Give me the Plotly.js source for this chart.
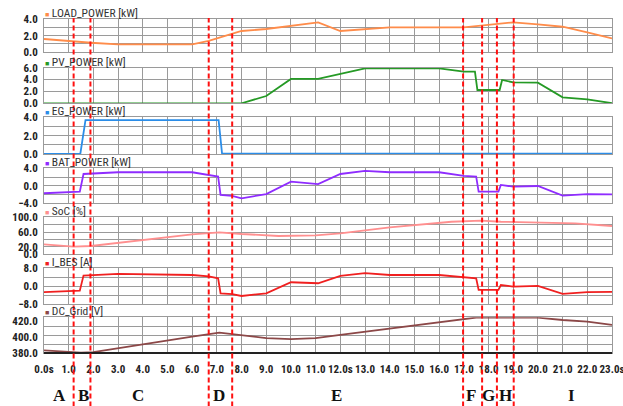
<!DOCTYPE html>
<html>
<head>
<meta charset="utf-8">
<script src="https://cdn.plot.ly/plotly-3.0.1.min.js"></script>
<style>
html,body{margin:0;padding:0;background:#fff;}
#chart{width:623px;height:406px;}
</style>
</head>
<body>
<div id="chart"></div>
<script>
// ---------- data ----------
const loadT = [0, 1.2, 1.9, 3, 6.0, 6.67, 7.62, 8, 9, 10, 11.1, 12, 13, 14, 17, 18, 19, 20, 21, 22, 23];
const loadV = [1.6, 1.27, 1.15, 0.96, 0.96, 1.36, 2.28, 2.56, 2.8, 3.16, 3.6, 2.56, 2.76, 3.0, 3.0, 3.28, 3.6, 3.36, 3.07, 2.4, 1.68];

const pvT = [0, 8, 9, 10, 11.1, 12, 13, 16, 17, 17.45, 17.55, 18.45, 18.55, 19, 20, 21, 22, 23];
const pvV = [0, 0, 1.23, 4.1, 4.1, 4.94, 5.9, 5.9, 5.33, 5.33, 2.24, 2.24, 3.93, 3.54, 3.47, 1.0, 0.67, 0.02];

const egT = [0, 1.47, 1.68, 7.07, 7.21, 23];
const egV = [0, 0, 3.7, 3.7, 0.05, 0.05];

const batT = [0, 1.45, 1.6, 2, 3, 6, 6.67, 7.05, 7.15, 7.62, 8, 9, 10, 11.1, 12, 13, 14, 16, 17, 17.5, 17.6, 18.4, 18.5, 19, 20, 21, 22, 23];
const batV = [-1.7, -1.35, 2.7, 2.85, 3.1, 3.1, 2.5, 2.1, -2.1, -2.3, -2.85, -1.9, 0.95, 0.4, 2.7, 3.4, 3.1, 3.1, 2.25, 2.1, -1.35, -1.35, 0.2, -0.2, -0.05, -2.25, -1.9, -1.95];

const socT = [0, 1.2, 1.9, 4, 6, 7.1, 8, 9.5, 11, 12, 14, 16.5, 17.7, 18.5, 20.5, 21.5, 23];
const socV = [27, 20.5, 22.4, 38.6, 54, 59.5, 54.9, 49.5, 51.4, 56.8, 73, 88, 90.8, 88, 86.5, 83.8, 76.5];

const ibesT = [0, 1.45, 1.6, 3, 6, 6.67, 7.05, 7.15, 7.62, 8, 9, 10, 11.1, 12, 13, 14, 16, 17, 17.5, 17.6, 18.4, 18.5, 19, 20, 21, 22, 23];
const ibesV = [-2.7, -2.0, 4.7, 5.5, 5.0, 4.4, 3.5, -3.2, -3.6, -4.4, -3.2, 1.75, 1.3, 4.6, 5.8, 5.0, 5.0, 3.8, 3.5, -1.7, -1.7, 0.5, -0.2, 0.1, -3.5, -2.7, -2.6];

const dcT = [0, 1.5, 2, 3, 4, 5, 6, 7.1, 8, 9, 10, 11, 12, 13, 14, 15, 16, 17, 17.5, 18, 20, 21, 22, 23];
const dcV = [383.3, 380.5, 381.2, 386.2, 391.2, 396.6, 400.7, 405.7, 402, 398.7, 397.5, 398.7, 402.9, 407, 411.2, 415.4, 419.5, 422.9, 424.7, 424.5, 424.5, 421.6, 419.5, 415.4];

const seriesNames = ['LOAD_POWER [kW]', 'PV_POWER [kW]', 'EG_POWER [kW]', 'BAT_POWER [kW]', 'SoC [%]', 'I_BES [A]', 'DC_Grid [V]'];

const loadTicks = [0, 2, 4];
const pvTicks = [0, 2, 4, 6];
const egTicks = [0, 2, 4];
const batTicks = [-4, 0, 4];
const socTicks = [0, 20, 60, 100];
const ibesTicks = [-8, 0, 8];
const dcTicks = [380, 400, 420];

const xTickVals = [0,1,2,3,4,5,6,7,8,9,10,11,12,13,14,15,16,17,18,19,20,21,22,23];
const xTickText = ['0.0s','1.0','2.0','3.0','4.0','5.0','6.0','7.0','8.0','9.0','10.0','11.0','12.0s','13.0','14.0','15.0','16.0','17.0','18.0','19.0','20.0','21.0','22.0','23.0s'];

const boundaryTimes = [1.2, 1.88, 6.67, 7.62, 16.97, 17.74, 18.34, 19.02];
const regionLetters = ['A', 'B', 'C', 'D', 'E', 'F', 'G', 'H', 'I'];
const regionLetterTimes = [0.64, 1.61, 3.81, 7.07, 11.84, 17.29, 18.0, 18.68, 21.38];

// ---------- styling ----------
const panels = [
  {t: loadT, v: loadV, color: '#ff8c4a', range: [0, 4], ticks: loadTicks, div: 4, dom: [0.9003, 1]},
  {t: pvT, v: pvV, color: '#259a25', range: [0, 6], ticks: pvTicks, div: 3, dom: [0.7476, 0.8542]},
  {t: egT, v: egV, color: '#2b8de8', range: [0, 4], ticks: egTicks, div: 4, dom: [0.5958, 0.7057]},
  {t: batT, v: batV, color: '#8f2cff', range: [-4, 4], ticks: batTicks, div: 4, dom: [0.4482, 0.5530]},
  {t: socT, v: socV, color: '#ff8f8f', range: [0, 100], ticks: socTicks, div: 5, dom: [0.2955, 0.4063]},
  {t: ibesT, v: ibesV, color: '#f02020', range: [-8, 8], ticks: ibesTicks, div: 4, dom: [0.1467, 0.2536]},
  {t: dcT, v: dcV, color: '#8c4848', range: [380, 425], ticks: dcTicks, div: 4, dom: [0, 0.1069]}
];

const narrowFont = '"Liberation Sans Narrow", "Arial Narrow", "Roboto Condensed", "Liberation Sans", Arial, sans-serif';
const gridColor = '#9a9a9a';
const frameColor = '#9a9a9a';

const data = [];
const layout = {
  width: 623, height: 406,
  margin: {l: 44, r: 11, t: 19, b: 53},
  paper_bgcolor: '#ffffff', plot_bgcolor: '#ffffff',
  showlegend: false,
  font: {family: narrowFont, color: '#222'},
  shapes: [], annotations: []
};

panels.forEach((p, i) => {
  const n = i + 1;
  const xid = n === 1 ? 'x' : 'x' + n;
  const yid = n === 1 ? 'y' : 'y' + n;
  data.push({
    type: 'scatter', mode: 'lines', x: p.t, y: p.v,
    xaxis: xid, yaxis: yid,
    line: {color: p.color, width: 1.8}, hoverinfo: 'skip'
  });
  const gridVals = [];
  for (let k = 0; k <= p.div; k++) gridVals.push(p.range[0] + (p.range[1] - p.range[0]) * k / p.div);
  const isBottom = n === panels.length;
  layout['xaxis' + (n === 1 ? '' : n)] = {
    domain: [0, 1], anchor: yid, range: [0, 23],
    showgrid: true, gridcolor: gridColor, gridwidth: 1,
    tickmode: 'array', tickvals: xTickVals, ticktext: xTickText,
    showticklabels: isBottom, ticklabeloverflow: 'allow', tickangle: 0,
    ticks: isBottom ? 'outside' : '', ticklen: 6, tickcolor: 'rgba(0,0,0,0)',
    tickfont: {size: 11, weight: 'bold', color: '#222', family: narrowFont},
    showline: true, mirror: true, linecolor: frameColor, linewidth: 1,
    zeroline: false, fixedrange: true
  };
  layout['yaxis' + (n === 1 ? '' : n)] = {
    domain: p.dom, anchor: xid, range: p.range,
    tickmode: 'array', tickvals: p.ticks, tickformat: '.1f',
    showgrid: false, ticklabeloverflow: 'allow',
    minor: {tickmode: 'array', tickvals: gridVals, showgrid: true, gridcolor: gridColor, gridwidth: 1, ticks: ''},
    ticks: 'outside', ticklen: 3, tickcolor: 'rgba(0,0,0,0)',
    tickfont: {size: 11, weight: 'bold', color: '#222', family: narrowFont},
    showline: true, mirror: true, linecolor: frameColor, linewidth: 1,
    zeroline: false, fixedrange: true
  };
  layout.annotations.push({
    xref: 'paper', yref: yid + ' domain', x: 0, y: 1,
    xanchor: 'left', yanchor: 'middle', yshift: 6, xshift: -1,
    showarrow: false,
    text: '<span style="color:' + p.color + ';font-size:7px">■</span> ' + seriesNames[i],
    font: {size: 11.5, color: '#333', family: narrowFont}
  });
});

// thick bottom axis line
layout.shapes.push({
  type: 'line', xref: 'paper', yref: 'y7 domain', x0: 0, x1: 1, y0: 0, y1: 0,
  line: {color: '#222', width: 2}, layer: 'above'
});

// red dashed boundaries
boundaryTimes.forEach(bt => {
  layout.shapes.push({
    type: 'line', xref: 'x7', yref: 'paper', x0: bt, x1: bt, y0: -0.16, y1: 1.003,
    line: {color: '#ff1010', width: 2, dash: '5px,3px'}, layer: 'above'
  });
});

// region letters
regionLetters.forEach((L, i) => {
  layout.annotations.push({
    xref: 'x7', yref: 'paper', x: regionLetterTimes[i], y: -0.126,
    xanchor: 'center', yanchor: 'middle', showarrow: false,
    text: L,
    font: {family: '"Liberation Serif", "Times New Roman", serif', size: 17, weight: 'bold', color: '#111'}
  });
});

Plotly.newPlot('chart', data, layout, {staticPlot: true, displayModeBar: false});
</script>
</body>
</html>
